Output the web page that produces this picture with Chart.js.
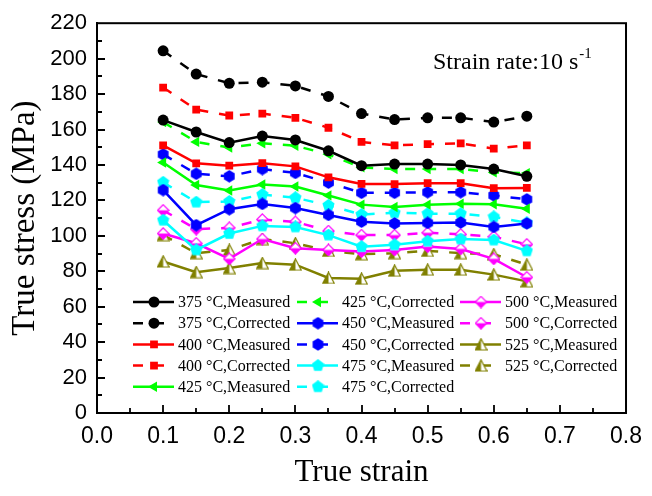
<!DOCTYPE html>
<html>
<head>
<meta charset="utf-8">
<script src="https://cdn.jsdelivr.net/npm/chart.js@4"></script>
<style>
  html, body { margin: 0; padding: 0; background: #fff; }
  #wrap { width: 652px; height: 496px; }
</style>
</head>
<body>
<div id="wrap"><canvas id="stressChart" width="652" height="496"></canvas></div>
<script>
// true strain at each sample
var strain = [0.1, 0.15, 0.2, 0.25, 0.3, 0.35, 0.4, 0.45, 0.5, 0.55, 0.6, 0.65];

// true stress (MPa)
var s375M = [165.3, 158.6, 152.6, 156.3, 154.1, 148.0, 139.6, 140.5, 140.5, 140.0, 137.7, 133.6];
var s375C = [204.4, 191.3, 186.1, 186.7, 184.6, 178.7, 169.0, 165.6, 166.6, 166.6, 164.2, 167.5];
var s400M = [151.0, 140.9, 139.6, 141.0, 139.2, 133.0, 129.3, 129.2, 129.7, 129.7, 126.9, 127.0];
var s400C = [183.7, 171.2, 167.9, 169.0, 166.6, 161.0, 153.0, 151.1, 151.7, 152.2, 149.2, 151.1];
var s425M = [141.4, 128.7, 125.6, 129.0, 127.8, 122.8, 117.6, 116.3, 117.6, 118.1, 117.8, 115.3];
var s425C = [164.2, 153.0, 149.8, 152.2, 150.8, 146.0, 138.6, 137.7, 137.7, 137.7, 135.8, 135.4];
var s450M = [125.8, 106.0, 115.0, 118.0, 115.7, 111.8, 108.0, 107.0, 107.3, 107.5, 105.0, 107.0];
var s450C = [146.0, 135.0, 133.6, 137.7, 135.5, 130.0, 124.3, 124.3, 124.6, 124.6, 122.8, 120.6];
var s475M = [108.8, 92.0, 101.3, 105.6, 105.0, 100.4, 93.9, 94.9, 97.0, 98.2, 97.6, 91.5];
var s475C = [130.2, 119.0, 119.4, 123.3, 121.5, 117.2, 112.0, 113.0, 112.5, 112.5, 110.7, 107.3];
var s500M = [101.3, 95.8, 87.0, 98.2, 93.0, 92.0, 91.1, 92.0, 93.9, 92.6, 87.0, 76.6];
var s500C = [114.4, 103.8, 104.5, 109.2, 107.9, 102.7, 100.4, 100.4, 101.7, 100.8, 99.5, 95.2];
var s525M = [85.5, 79.5, 81.8, 84.6, 83.7, 76.2, 75.8, 80.3, 80.9, 80.9, 78.1, 74.3];
var s525C = [100.4, 90.2, 92.0, 98.2, 95.8, 91.5, 89.6, 90.2, 91.5, 90.2, 89.6, 83.7];

var seriesLabels = [
  "375 °C,Measured", "375 °C,Corrected", "400 °C,Measured", "400 °C,Corrected",
  "425 °C,Measured", "425 °C,Corrected", "450 °C,Measured", "450 °C,Corrected",
  "475 °C,Measured", "475 °C,Corrected", "500 °C,Measured", "500 °C,Corrected",
  "525 °C,Measured", "525 °C,Corrected"
];
var seriesValues = [s375M, s375C, s400M, s400C, s425M, s425C, s450M, s450C,
                    s475M, s475C, s500M, s500C, s525M, s525C];

var xTicks = [0, 0.1, 0.2, 0.3, 0.4, 0.5, 0.6, 0.7, 0.8];
var yTicks = [0, 20, 40, 60, 80, 100, 120, 140, 160, 180, 200, 220];

// small marker bitmaps for the shapes chart.js doesn't have
function marker(draw) {
  var c = document.createElement('canvas');
  c.width = 13; c.height = 13;
  var g = c.getContext('2d');
  draw(g);
  return c;
}
function poly(g, n, r, start) {
  g.beginPath();
  for (var k = 0; k < n; k++) {
    var a = start + k * 2 * Math.PI / n;
    var px = 6.5 + r * Math.cos(a), py = 6.5 + r * Math.sin(a);
    if (k === 0) g.moveTo(px, py); else g.lineTo(px, py);
  }
  g.closePath();
}
var hexBlue = marker(function (g) { poly(g, 6, 6.2, -Math.PI / 2); g.fillStyle = '#0000ff'; g.fill(); });
var pentCyan = marker(function (g) { poly(g, 5, 6.4, -Math.PI / 2); g.fillStyle = '#00ffff'; g.fill(); });
var diaMag = marker(function (g) {
  g.beginPath(); g.moveTo(6.5, 0.8); g.lineTo(12.2, 6.5); g.lineTo(6.5, 12.2); g.lineTo(0.8, 6.5); g.closePath();
  g.fillStyle = '#fff'; g.fill();
  g.beginPath(); g.moveTo(0.8, 6.5); g.lineTo(12.2, 6.5); g.lineTo(6.5, 12.2); g.closePath();
  g.fillStyle = '#ff00ff'; g.fill();
  g.beginPath(); g.moveTo(6.5, 0.8); g.lineTo(12.2, 6.5); g.lineTo(6.5, 12.2); g.lineTo(0.8, 6.5); g.closePath();
  g.strokeStyle = '#ff00ff'; g.lineWidth = 1.2; g.stroke();
});
var triOlive = marker(function (g) {
  g.beginPath(); g.moveTo(6.5, 0.8); g.lineTo(12.3, 12); g.lineTo(0.7, 12); g.closePath();
  g.fillStyle = '#fff'; g.fill();
  g.beginPath(); g.moveTo(6.5, 0.8); g.lineTo(6.5, 12); g.lineTo(0.7, 12); g.closePath();
  g.fillStyle = '#808000'; g.fill();
  g.beginPath(); g.moveTo(6.5, 0.8); g.lineTo(12.3, 12); g.lineTo(0.7, 12); g.closePath();
  g.strokeStyle = '#808000'; g.lineWidth = 1.2; g.stroke();
});

var colors = ['#000000', '#000000', '#ff0000', '#ff0000', '#00ff00', '#00ff00', '#0000ff', '#0000ff',
              '#00ffff', '#00ffff', '#ff00ff', '#ff00ff', '#808000', '#808000'];
var styles = ['circle', 'circle', 'rect', 'rect', 'triangle', 'triangle', hexBlue, hexBlue,
              pentCyan, pentCyan, diaMag, diaMag, triOlive, triOlive];
var rotations = [0, 0, 0, 0, -90, -90, 0, 0, 0, 0, 0, 0, 0, 0];
var radii = [5.5, 5.5, 5.5, 5.5, 6, 6, 6, 6, 6, 6, 6, 6, 6, 6];

var datasets = seriesLabels.map(function (lab, i) {
  return {
    label: lab,
    data: strain.map(function (x, j) { return { x: x, y: seriesValues[i][j] }; }),
    borderColor: colors[i],
    backgroundColor: colors[i],
    borderWidth: 2.5,
    borderDash: i % 2 === 1 ? [10, 11] : [],
    pointStyle: styles[i],
    pointRotation: rotations[i],
    pointRadius: radii[i],
    pointBorderWidth: 0,
    tension: 0
  };
});

var PLOT = { left: 97, top: 20, right: 634, bottom: 413 };

var decorPlugin = {
  id: 'decor',
  afterDraw: function (chart) {
    var ctx = chart.ctx, a = chart.chartArea;
    var xs = chart.scales.x, ys = chart.scales.y;
    ctx.save();
    // frame
    ctx.strokeStyle = '#000';
    ctx.lineWidth = 2;
    ctx.setLineDash([]);
    ctx.strokeRect(a.left, a.top, a.right - a.left, a.bottom - a.top);
    // inward ticks
    ctx.lineWidth = 1.8;
    ctx.beginPath();
    for (var v = 10; v < 220; v += 10) {
      var py = Math.round(ys.getPixelForValue(v));
      ctx.moveTo(a.left, py);
      ctx.lineTo(a.left + (v % 20 === 0 ? 8 : 5), py);
    }
    for (var k = 1; k < 16; k++) {
      var px = Math.round(xs.getPixelForValue(k * 0.05));
      ctx.moveTo(px, a.bottom);
      ctx.lineTo(px, a.bottom - (k % 2 === 0 ? 8 : 5));
    }
    ctx.stroke();

    // annotation
    ctx.fillStyle = '#000';
    ctx.textBaseline = 'alphabetic';
    ctx.textAlign = 'left';
    ctx.font = '24px "Liberation Serif"';
    var t = 'Strain rate:10 s';
    ctx.fillText(t, 433, 69);
    var w = ctx.measureText(t).width;
    ctx.font = '15px "Liberation Serif"';
    ctx.fillText('-1', 433 + w + 1, 58);

    // legend, three columns, filled column by column
    var colX = [133, 297, 460];
    ctx.font = '16px "Liberation Serif"';
    ctx.textBaseline = 'middle';
    chart.data.datasets.forEach(function (ds, i) {
      var cx = colX[Math.floor(i / 5)];
      var cy = 302 + (i % 5) * 21.2;
      ctx.strokeStyle = ds.borderColor;
      ctx.lineWidth = ds.borderWidth;
      ctx.setLineDash(ds.borderDash);
      ctx.beginPath();
      ctx.moveTo(cx, cy);
      ctx.lineTo(cx + 41, cy);
      ctx.stroke();
      ctx.setLineDash([]);
      ctx.fillStyle = ds.backgroundColor;
      Chart.helpers.drawPoint(ctx, {
        pointStyle: ds.pointStyle, radius: ds.pointRadius,
        rotation: ds.pointRotation, borderWidth: 0
      }, cx + 21, cy);
      ctx.fillStyle = '#000';
      ctx.fillText(ds.label, cx + 45, cy + 1);
    });
    ctx.restore();
  }
};

var ctx = document.getElementById('stressChart');
var stressChart = new Chart(ctx, {
  type: 'line',
  data: { datasets: datasets },
  plugins: [decorPlugin],
  options: {
    responsive: false,
    animation: false,
    layout: { padding: { left: 0, top: PLOT.top, right: 652 - PLOT.right, bottom: 0 } },
    plugins: {
      legend: { display: false },
      tooltip: { enabled: false }
    },
    scales: {
      x: {
        type: 'linear',
        min: 0,
        max: 0.8,
        afterBuildTicks: function (scale) { scale.ticks = xTicks.map(function (v) { return { value: v }; }); },
        afterFit: function (scale) { scale.height = 496 - PLOT.bottom; },
        grid: { display: false, drawTicks: false },
        border: { display: true, color: '#000', width: 2 },
        ticks: {
          color: '#000',
          padding: 10,
          font: { family: '"Liberation Sans"', size: 23 },
          callback: function (v) { return v.toFixed(1); }
        },
        title: {
          display: true,
          text: 'True strain',
          color: '#000',
          font: { family: '"Liberation Serif"', size: 31 },
          padding: { top: 0, bottom: 5 }
        }
      },
      y: {
        min: 0,
        max: 220,
        afterBuildTicks: function (scale) { scale.ticks = yTicks.map(function (v) { return { value: v }; }); },
        afterFit: function (scale) { scale.width = PLOT.left; },
        grid: { display: false, drawTicks: false },
        border: { display: true, color: '#000', width: 2 },
        ticks: {
          color: '#000',
          padding: 10,
          font: { family: '"Liberation Sans"', size: 22 }
        },
        title: {
          display: true,
          text: 'True stress (MPa)',
          color: '#000',
          font: { family: '"Liberation Serif"', size: 33 },
          padding: { top: 6, bottom: 0 }
        }
      }
    }
  }
});
</script>
</body>
</html>
